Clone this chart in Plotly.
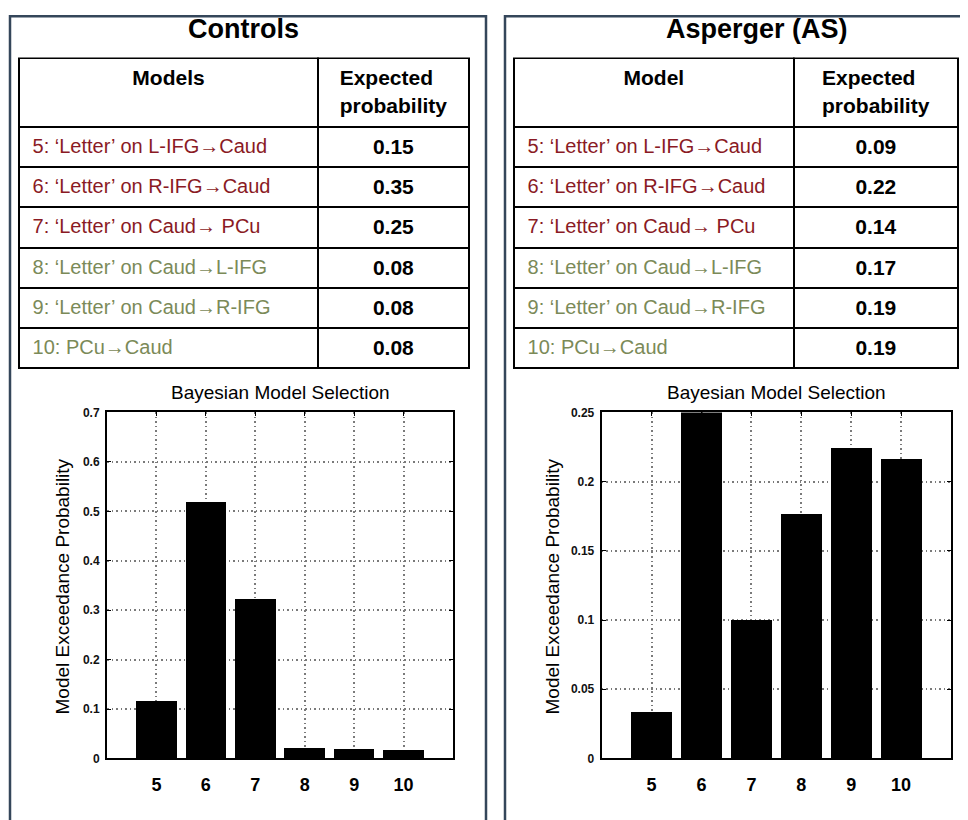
import plotly.graph_objects as go

# ---------------- data ----------------
model_ids = [5, 6, 7, 8, 9, 10]
model_labels = [
    "5: ‘Letter’ on L-IFG→Caud",
    "6: ‘Letter’ on R-IFG→Caud",
    "7: ‘Letter’ on Caud→ PCu",
    "8: ‘Letter’ on Caud→L-IFG",
    "9: ‘Letter’ on Caud→R-IFG",
    "10: PCu→Caud",
]
expected_controls = [0.15, 0.35, 0.25, 0.08, 0.08, 0.08]
expected_as = [0.09, 0.22, 0.14, 0.17, 0.19, 0.19]
exceed_controls = [0.115, 0.518, 0.321, 0.021, 0.018, 0.016]
exceed_as = [0.033, 0.25, 0.100, 0.176, 0.224, 0.216]

yticks_controls = [0, 0.1, 0.2, 0.3, 0.4, 0.5, 0.6, 0.7]
yticks_as = [0, 0.05, 0.1, 0.15, 0.2, 0.25]

# ---------------- layout helpers ----------------
OFFX = 8
OFFY, SY = 14.5, 0.983
W, H = 952, 822
def fx(x):
    return x - OFFX
def fy(y):
    return (y - OFFY) / SY
def px(x):
    return fx(x) / W
def py(y):
    return 1 - fy(y) / H

FONT = "Liberation Sans, Arial, sans-serif"
RED = "#8a1a24"
GREEN = "#7b8a58"
FRAME = "#34465a"

row_colors = [RED if m <= 7 else GREEN for m in model_ids]
row_text = ["\u00a0" + s.replace("→", "<b>→</b>") for s in model_labels]

fig = go.Figure()

def add_table(x0, x1, xdiv, header_left, values):
    fig.add_trace(go.Table(
        domain=dict(x=[px(x0), px(x1)], y=[py(380), py(58)]),
        columnwidth=[xdiv - x0, x1 - xdiv],
        header=dict(
            values=[f"<b>{header_left}</b>", "<b>Expected<br>probability</b>"],
            align="center",
            height=67 / SY,
            fill_color="white",
            line=dict(color="black", width=2),
            font=dict(family=FONT, size=21, color="black"),
        ),
        cells=dict(
            values=[row_text, [f"<b>{v:.2f}</b>" for v in values]],
            align=["left", "center"],
            height=39.6 / SY,
            fill_color="white",
            line=dict(color="black", width=2),
            font=dict(family=FONT, size=[20, 21], color=[row_colors, "black"]),
        ),
    ))

add_table(19, 469, 318, "Models", expected_controls)
add_table(514, 958.5, 794, "Model", expected_as)

fig.add_trace(go.Bar(x=model_ids, y=exceed_controls, width=0.82,
                     marker=dict(color="black", line=dict(width=0)),
                     xaxis="x", yaxis="y", showlegend=False))
fig.add_trace(go.Bar(x=model_ids, y=exceed_as, width=0.82,
                     marker=dict(color="black", line=dict(width=0)),
                     xaxis="x2", yaxis="y2", showlegend=False))

GRID = dict(showgrid=True, gridcolor="#7a7a7a", griddash="1.5px,3px", gridwidth=1.5)

def xaxis_cfg(x0, x1, anchor):
    return dict(
        domain=[px(x0), px(x1)], range=[4, 11], anchor=anchor,
        tickvals=model_ids, ticktext=[str(m) for m in model_ids],
        tickfont=dict(family=FONT, size=18, color="black", weight="bold"),
        showline=True, linecolor="black", linewidth=2, mirror="ticks",
        ticks="inside", ticklen=4, tickcolor="black",
        ticklabelstandoff=9, zeroline=False, fixedrange=True, **GRID,
    )

def yaxis_cfg(rng, ticks, anchor):
    return dict(
        domain=[py(758), py(412)], range=rng, anchor=anchor,
        tickvals=ticks, ticktext=[("%g" % t) for t in ticks],
        tickfont=dict(family=FONT, size=12, color="#111", weight="bold"),
        showline=True, linecolor="black", linewidth=2, mirror="ticks",
        ticks="inside", ticklen=4, tickcolor="black",
        ticklabelstandoff=3, zeroline=False, fixedrange=True, **GRID,
    )

frame_top = 1 - 1.3 / H
shapes = [
    dict(type="rect", xref="paper", yref="paper",
         x0=px(10), x1=px(486), y0=frame_top, y1=-0.05,
         line=dict(color=FRAME, width=2.5)),
    dict(type="rect", xref="paper", yref="paper",
         x0=px(505), x1=px(990), y0=frame_top, y1=-0.05,
         line=dict(color=FRAME, width=2.5)),
]

annotations = []
def ann(text, x, y, size, bold=False, angle=0):
    annotations.append(dict(
        text=f"<b>{text}</b>" if bold else text, x=px(x), y=py(y),
        xref="paper", yref="paper", showarrow=False, textangle=angle,
        xanchor="center", yanchor="middle",
        font=dict(family=FONT, size=size, color="black")))

title_y = 1 - 14.0 / H
for t, xc in [("Controls", 243), ("Asperger (AS)", 757)]:
    annotations.append(dict(
        text=f"<b>{t}</b>", x=px(xc), y=title_y, xref="paper", yref="paper",
        showarrow=False, xanchor="center", yanchor="middle",
        font=dict(family=FONT, size=27, color="black")))
ann("Bayesian Model Selection", 280, 392, 19)
ann("Bayesian Model Selection", 776, 392, 19)
ann("Model Exceedance Probability", 62, 586, 19, angle=-90)
ann("Model Exceedance Probability", 552, 586, 19, angle=-90)

fig.update_layout(
    width=W, height=H,
    margin=dict(l=0, r=0, t=0, b=0),
    paper_bgcolor="white", plot_bgcolor="white",
    xaxis=xaxis_cfg(107, 453, "y"),
    yaxis=yaxis_cfg([0, 0.7], yticks_controls, "x"),
    xaxis2=xaxis_cfg(601.7, 951, "y2"),
    yaxis2=yaxis_cfg([0, 0.25], yticks_as, "x2"),
    shapes=shapes, annotations=annotations,
    bargap=0, showlegend=False,
)

fig.write_html("out.html")
